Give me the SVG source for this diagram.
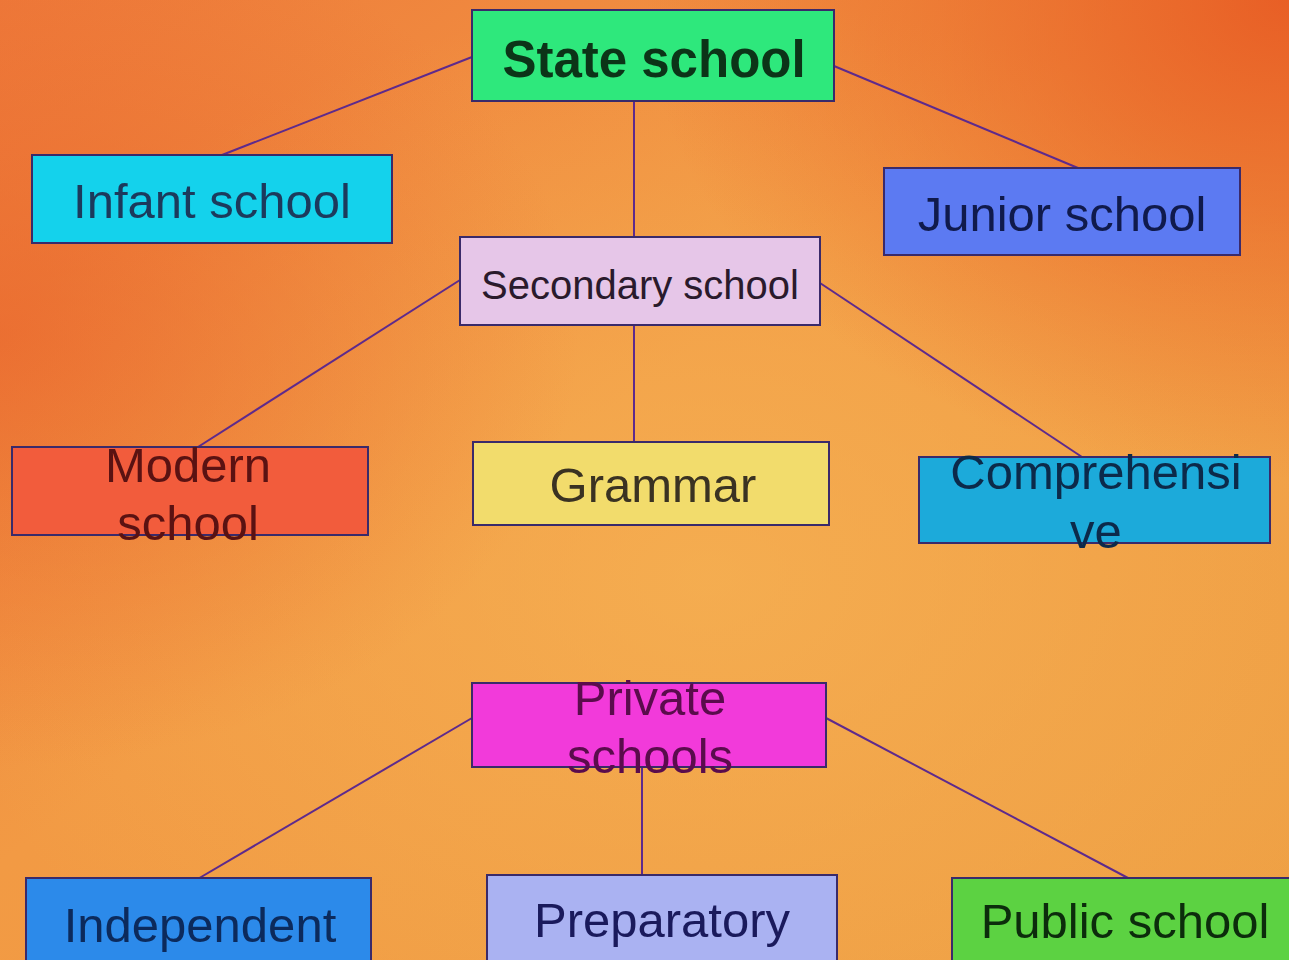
<svg xmlns="http://www.w3.org/2000/svg" width="1289" height="960" viewBox="0 0 1289 960">
<defs>
<linearGradient id="bg" x1="0" y1="0" x2="1" y2="1">
<stop offset="0" stop-color="#ee7a3a"/>
<stop offset="0.45" stop-color="#f29a44"/>
<stop offset="1" stop-color="#eea044"/>
</linearGradient>
<radialGradient id="glow" cx="0.55" cy="0.6" r="0.6">
<stop offset="0" stop-color="#f6b455" stop-opacity="0.7"/>
<stop offset="1" stop-color="#f6b455" stop-opacity="0"/>
</radialGradient>
<radialGradient id="red" cx="1" cy="0" r="0.5">
<stop offset="0" stop-color="#e6501e" stop-opacity="0.8"/>
<stop offset="1" stop-color="#e6501e" stop-opacity="0"/>
</radialGradient>
<radialGradient id="redl" cx="0" cy="0.35" r="0.45">
<stop offset="0" stop-color="#e8602a" stop-opacity="0.6"/>
<stop offset="1" stop-color="#e8602a" stop-opacity="0"/>
</radialGradient>
</defs>
<style>
.box{stroke:#3a2a6a;stroke-width:2}
.t{font-family:"Liberation Sans",Arial,sans-serif;font-size:49px;text-anchor:middle}
.conn line{stroke:#5e2a8c;stroke-width:2;fill:none}
</style>
<rect width="1289" height="960" fill="url(#bg)"/>
<rect width="1289" height="960" fill="url(#glow)"/>
<rect width="1289" height="960" fill="url(#red)"/>
<rect width="1289" height="960" fill="url(#redl)"/>
<g id="connectors" class="conn">
<line x1="472" y1="57" x2="222" y2="155"/>
<line x1="634" y1="101" x2="634" y2="237"/>
<line x1="834" y1="66" x2="1078" y2="168"/>
<line x1="460" y1="280" x2="198" y2="447"/>
<line x1="634" y1="325" x2="634" y2="442"/>
<line x1="820" y1="283" x2="1082" y2="457"/>
<line x1="472" y1="718" x2="196" y2="880"/>
<line x1="642" y1="745" x2="642" y2="885"/>
<line x1="826" y1="718" x2="1128" y2="878"/>
</g>
<g id="state-school">
<rect class="box" x="472" y="10" width="362" height="91" fill="#2ee87c" stroke="#0e3a1a"/>
<text class="t" x="654" y="77" style="font-weight:bold;font-size:51px" fill="#0c3418">State school</text>
</g>
<g id="infant-school">
<rect class="box" x="32" y="155" width="360" height="88" fill="#14d2ec"/>
<text class="t" x="212" y="218" fill="#1c3a5c">Infant school</text>
</g>
<g id="junior-school">
<rect class="box" x="884" y="168" width="356" height="87" fill="#5c7af2"/>
<text class="t" x="1062" y="231" fill="#101a4c">Junior school</text>
</g>
<g id="secondary-school">
<rect class="box" x="460" y="237" width="360" height="88" fill="#e6c6e8" stroke="#5a2a6a"/>
<text class="t" x="640" y="299" style="font-size:40px" fill="#2a1a2c">Secondary school</text>
</g>
<g id="modern-school">
<rect class="box" x="12" y="447" width="356" height="88" fill="#f25c3c" stroke="#6a2a6a"/>
<text class="t" x="188" y="482" fill="#5a1212">Modern</text>
<text class="t" x="188" y="540" fill="#5a1212">school</text>
</g>
<g id="grammar">
<rect class="box" x="473" y="442" width="356" height="83" fill="#f2dc6c" stroke="#6a4a6a"/>
<text class="t" x="653" y="502" fill="#3a3222">Grammar</text>
</g>
<g id="comprehensive">
<rect class="box" x="919" y="457" width="351" height="86" fill="#1caada" stroke="#1a2a6a"/>
<text class="t" x="1096" y="489" fill="#0c2a4a">Comprehensi</text>
<text class="t" x="1096" y="548" fill="#0c2a4a">ve</text>
</g>
<g id="private-schools">
<rect class="box" x="472" y="683" width="354" height="84" fill="#f23ada" stroke="#7a2a8a"/>
<text class="t" x="650" y="715" fill="#5a0c4c">Private</text>
<text class="t" x="650" y="773" fill="#5a0c4c">schools</text>
</g>
<g id="independent">
<rect class="box" x="26" y="878" width="345" height="90" fill="#2c8aea"/>
<text class="t" x="200" y="942" fill="#0c2a5c">Independent</text>
</g>
<g id="preparatory">
<rect class="box" x="487" y="875" width="350" height="90" fill="#aab2f2" stroke="#6a4a9a"/>
<text class="t" x="662" y="937" fill="#1a1a5c">Preparatory</text>
</g>
<g id="public-school">
<rect class="box" x="952" y="878" width="345" height="90" fill="#5cd242" stroke="#2a5a3a"/>
<text class="t" x="1125" y="938" fill="#0c2c0c">Public school</text>
</g>
</svg>
